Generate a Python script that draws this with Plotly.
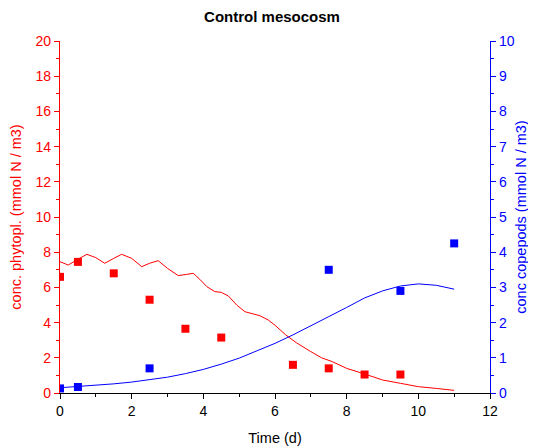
import plotly.graph_objects as go

# observed data
phyto_t = [0, 0.5, 1.5, 2.5, 3.5, 4.5, 6.5, 7.5, 8.5, 9.5]
phyto_obs = [6.6, 7.45, 6.8, 5.3, 3.65, 3.15, 1.6, 1.4, 1.05, 1.05]
cope_t = [0, 0.5, 2.5, 7.5, 9.5, 11]
cope_obs = [0.13, 0.17, 0.7, 3.5, 2.9, 4.25]

# model lines
phyto_model_t = [0, 0.23, 0.5, 0.75, 1.0, 1.25, 1.5, 1.72, 2.0, 2.28, 2.5, 2.74, 3.0, 3.3, 3.53,
                 3.72, 3.9, 4.1, 4.32, 4.5, 4.7, 4.93, 5.16, 5.35, 5.58, 5.81, 6.0, 6.3, 6.6,
                 7.0, 7.3, 7.6, 8.0, 8.5, 9.0, 9.5, 10.0, 10.5, 11.0]
phyto_model = [7.46, 7.27, 7.6, 7.88, 7.69, 7.37, 7.65, 7.88, 7.65, 7.18, 7.37, 7.52, 7.08, 6.67, 6.74,
               6.8, 6.46, 6.04, 5.76, 5.72, 5.51, 5.0, 4.62, 4.53, 4.39, 4.15, 3.85, 3.3, 2.85,
               2.35, 2.0, 1.78, 1.4, 1.08, 0.74, 0.55, 0.36, 0.26, 0.15]
cope_model_t = [0, 0.5, 1, 1.5, 2, 2.5, 3, 3.5, 4, 4.5, 5, 5.5, 6, 6.5, 7, 7.5, 8, 8.5, 9, 9.5, 10, 10.5, 11]
cope_model = [0.15, 0.18, 0.22, 0.26, 0.31, 0.38, 0.45, 0.55, 0.67, 0.82, 0.99, 1.2, 1.41, 1.65,
              1.9, 2.17, 2.43, 2.7, 2.9, 3.04, 3.1, 3.06, 2.95]

RED = "#ff0000"
BLUE = "#0000ff"

fig = go.Figure()
fig.add_trace(go.Scatter(x=phyto_model_t, y=phyto_model, mode="lines",
                         line=dict(color=RED, width=1), showlegend=False))
fig.add_trace(go.Scatter(x=cope_model_t, y=cope_model, mode="lines", yaxis="y2",
                         line=dict(color=BLUE, width=1), showlegend=False))
fig.add_trace(go.Scatter(x=phyto_t, y=phyto_obs, mode="markers",
                         marker=dict(symbol="square", size=8, color=RED), showlegend=False))
fig.add_trace(go.Scatter(x=cope_t, y=cope_obs, mode="markers", yaxis="y2",
                         marker=dict(symbol="square", size=8, color=BLUE), showlegend=False))

font_fam = "Liberation Sans, Arial, sans-serif"
# page body has an 8px margin, so the figure is sized/offset to compensate
fig.update_layout(
    width=528, height=439,
    margin=dict(l=52, r=46, t=33, b=54),
    paper_bgcolor="white", plot_bgcolor="white",
    font=dict(family=font_fam, size=14, color="black"),
    title=dict(text="<b>Control mesocosm</b>", x=0.5, xanchor="center", y=0.9795, yanchor="middle",
               font=dict(size=15, color="black", family=font_fam)),
    xaxis=dict(range=[0, 12], tickmode="linear", tick0=0, dtick=2, showgrid=False, zeroline=False,
               automargin=False,
               showline=True, linecolor="black", linewidth=1.3, ticks="outside", ticklen=5,
               tickcolor="black", tickfont=dict(color="black", size=14),
               minor=dict(ticks="outside", dtick=1, ticklen=3, tickcolor="black"),
               title=dict(text="Time (d)", font=dict(size=14.5), standoff=14)),
    yaxis=dict(range=[0, 20], tickmode="linear", tick0=0, dtick=2, showgrid=False, zeroline=False,
               automargin=False,
               showline=True, linecolor=RED, linewidth=1.3, ticks="outside", ticklen=5,
               tickcolor=RED, tickfont=dict(color=RED, size=14),
               minor=dict(ticks="outside", dtick=1, ticklen=3, tickcolor=RED),
               title=dict(text="conc. phytopl. (mmol N / m3)", font=dict(color=RED, size=14.5), standoff=12)),
    yaxis2=dict(range=[0, 10], tickmode="linear", tick0=0, dtick=1, overlaying="y", side="right",
                automargin=False,
                showgrid=False, zeroline=False, showline=True, linecolor=BLUE, linewidth=1.3,
                ticks="outside", ticklen=5, tickcolor=BLUE, tickfont=dict(color=BLUE, size=14),
                minor=dict(ticks="outside", dtick=0.5, ticklen=3, tickcolor=BLUE),
                title=dict(text="conc copepods (mmol N / m3)", font=dict(color=BLUE, size=14.5), standoff=2)),
)

fig.write_html("out.html")
